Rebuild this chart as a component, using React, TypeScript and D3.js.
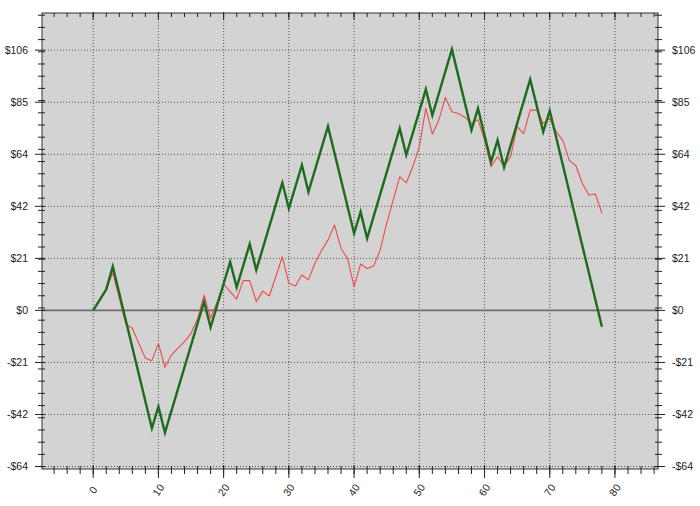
import React from "react";
import * as d3 from "d3";

const greenX = [0, 2, 3, 9, 10, 11, 17, 18, 21, 22, 24, 25, 29, 30, 32, 33, 36, 40, 41, 42, 47, 48, 51, 52, 55, 58, 59, 61, 62, 63, 67, 69, 70, 78];
const greenY = [0, 8.6, 18, -48.3, -39.4, -50.1, 3.6, -6.9, 19.9, 9.5, 27.2, 16.5, 52.3, 41.8, 59.6, 48.6, 75.4, 31.6, 40.4, 29.5, 74.6, 63.7, 90.6, 80, 107, 73.9, 82.8, 60.9, 69.8, 58.6, 94.7, 73.2, 81.8, -6.7];

const redY = [
  0, 4.3, 8.6, 15.4, 5, -5.6, -7.3, -13.5, -19.6, -20.6,
  -13.5, -23.3, -18.3, -15.5, -12.8, -9.4, -3.5, 6.3, -3.2, 3.5,
  10.8, 7.7, 4.6, 12.2, 12.2, 3.6, 7.9, 5.9, 13.8, 22,
  11.1, 10, 14.5, 12.5, 19.3, 24.5, 28.8, 35, 25.4, 21.3,
  9.7, 19, 17.2, 18.2, 24.7, 35.7, 45.2, 54.8, 52.3, 58.9,
  67, 82.9, 72.3, 78, 87.3, 81.4, 80.7, 79.1, 76.6, 78.2,
  69.7, 58.9, 63, 59.2, 63, 75.3, 72.5, 82.1, 82.1, 76.6,
  78.7, 73.2, 69.7, 61.5, 59.4, 52, 47.3, 47.7, 39.8,
];

const yTickValues = [-64, -42.667, -21.333, 0, 21.333, 42.667, 64, 85.333, 106.667];
const yTickLabels = ["-$64", "-$42", "-$21", "$0", "$21", "$42", "$64", "$85", "$106"];
const xTickValues = [0, 10, 20, 30, 40, 50, 60, 70, 80];
const xTickLabels = ["0", "10", "20", "30", "40", "50", "60", "70", "80"];

const W = 700;
const H = 506;
const left = 42;
const right = 658;
const top = 13;
const bottom = 469;

export default function App() {
  const x = d3.scaleLinear().domain([-7.85, 86.6]).range([left, right]);
  const y = d3.scaleLinear().domain([-65, 121.9]).range([bottom, top]);

  const greenData = greenX.map((v, i) => [v, greenY[i]] as [number, number]);
  const redData = redY.map((v, i) => [i, v] as [number, number]);
  const line = d3
    .line<[number, number]>()
    .x((d) => x(d[0]))
    .y((d) => y(d[1]));

  const minorY = d3.range(-64, 122, 5);
  const minorX = d3.range(-6, 87, 2);
  const font = "'Liberation Sans', Arial, sans-serif";

  return (
    <svg width={W} height={H} style={{ position: "absolute", left: 0, top: 0, background: "#fff" }}>
      <rect x={left} y={top} width={right - left} height={bottom - top} fill="#d3d3d3" />
      {/* grid */}
      {xTickValues.map((v) => (
        <line key={"gx" + v} x1={x(v)} x2={x(v)} y1={top} y2={bottom} stroke="#555" strokeWidth={1} strokeDasharray="1,2" />
      ))}
      {yTickValues.map((v) =>
        v === 0 ? null : (
          <line key={"gy" + v} x1={left} x2={right} y1={y(v)} y2={y(v)} stroke="#555" strokeWidth={1} strokeDasharray="1,2" />
        )
      )}
      <line x1={left} x2={right} y1={y(0)} y2={y(0)} stroke="#6e6e6e" strokeWidth={1.6} />
      {/* series */}
      <path d={line(redData) || ""} fill="none" stroke="#ee4a4a" strokeWidth={1.1} strokeLinejoin="round" />
      <path d={line(greenData) || ""} fill="none" stroke="#1d6b1d" strokeWidth={2.4} strokeLinejoin="miter" />
      {/* frame */}
      <rect x={left} y={top} width={right - left} height={bottom - top} fill="none" stroke="#333" strokeWidth={1} />
      {/* y minor ticks */}
      {minorY.map((v) => (
        <g key={"my" + v}>
          <line x1={left - 4} x2={left + 3} y1={y(v)} y2={y(v)} stroke="#222" />
          <line x1={right - 3} x2={right + 4} y1={y(v)} y2={y(v)} stroke="#222" />
        </g>
      ))}
      {yTickValues.map((v, i) => (
        <g key={"ty" + v}>
          <line x1={left - 7} x2={left + 3} y1={y(v)} y2={y(v)} stroke="#222" />
          <line x1={right - 3} x2={right + 7} y1={y(v)} y2={y(v)} stroke="#222" />
          <text x={28} y={y(v)} dy="0.35em" textAnchor="end" fontFamily={font} fontSize={10.5} fill="#222">
            {yTickLabels[i]}
          </text>
          <text x={672} y={y(v)} dy="0.35em" textAnchor="start" fontFamily={font} fontSize={10.5} fill="#222">
            {yTickLabels[i]}
          </text>
        </g>
      ))}
      {/* x ticks */}
      {minorX.map((v) => (
        <g key={"mx" + v}>
          <line x1={x(v)} x2={x(v)} y1={bottom - 3} y2={bottom + 5} stroke="#222" />
          <line x1={x(v)} x2={x(v)} y1={top} y2={top + 4} stroke="#222" />
        </g>
      ))}
      {xTickValues.map((v, i) => (
        <g key={"tx" + v}>
          <line x1={x(v)} x2={x(v)} y1={bottom - 4} y2={bottom + 9} stroke="#222" />
          <line x1={x(v)} x2={x(v)} y1={top - 1} y2={top + 7} stroke="#222" />
          <text
            transform={`translate(${x(v)},${490}) rotate(-55)`}
            dy="0.35em"
            textAnchor="middle"
            fontFamily={font}
            fontSize={10.5}
            fill="#222"
          >
            {xTickLabels[i]}
          </text>
        </g>
      ))}
    </svg>
  );
}
